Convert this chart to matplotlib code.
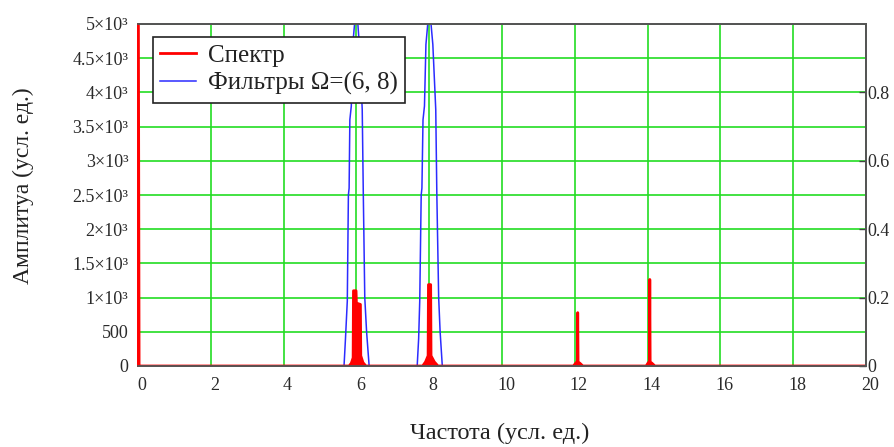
import matplotlib
matplotlib.use('Agg')
import matplotlib.pyplot as plt
import matplotlib.transforms as mtransforms
from matplotlib.ticker import MultipleLocator

plt.rcParams['font.family'] = ['Liberation Serif', 'DejaVu Serif']

# Спектр (левая ось, усл. ед.)
spec_freq = [0.0, 0.03,
             5.80, 5.86, 5.91, 5.92, 5.99, 6.00, 6.11, 6.12, 6.18, 6.26,
             7.82, 7.90, 7.97, 7.98, 8.04, 8.05, 8.14, 8.24,
             11.96, 12.04, 12.07, 12.08, 12.09, 12.14, 12.22,
             13.96, 14.02, 14.05, 14.06, 14.07, 14.12, 14.20,
             20.0]
spec_amp = [8000, 0,
            0, 40, 120, 1100, 1100, 920, 900, 150, 50, 0,
            0, 60, 150, 1190, 1190, 150, 60, 0,
            0, 50, 60, 780, 60, 40, 0,
            0, 50, 60, 1265, 60, 40, 0,
            0]

# Фильтры (правая ось, 0..1)
filt_freq = [0.0, 5.66, 5.70, 5.75, 5.78, 5.80, 5.82, 5.86, 5.90, 5.95, 6.04, 6.08, 6.16, 6.19, 6.23, 6.28, 6.35,
             7.67, 7.71, 7.74, 7.78, 7.80, 7.83, 7.87, 7.91, 7.96, 8.05, 8.10, 8.18, 8.21, 8.26, 8.30, 8.36, 20.0]
filt_gain = [0, 0, 0.08, 0.19, 0.5, 0.52, 0.72, 0.76, 0.94, 1.0, 1.0, 0.94, 0.75, 0.5, 0.2, 0.1, 0,
             0, 0.08, 0.19, 0.5, 0.52, 0.72, 0.76, 0.94, 1.0, 1.0, 0.94, 0.75, 0.5, 0.2, 0.1, 0, 0]

x_ticks = [0, 2, 4, 6, 8, 10, 12, 14, 16, 18, 20]
y_ticks = [0, 500, 1000, 1500, 2000, 2500, 3000, 3500, 4000, 4500, 5000]
y_labels = ['0', '500', '1×10³', '1.5×10³', '2×10³', '2.5×10³', '3×10³',
            '3.5×10³', '4×10³', '4.5×10³', '5×10³']
y2_ticks = [0, 0.2, 0.4, 0.6, 0.8]
y2_labels = ['0', '0.2', '0.4', '0.6', '0.8']

txt = '#2a2a2a'
fig = plt.figure(figsize=(8.94, 4.47), dpi=100)
ax2 = fig.add_axes([138/894, 1 - 366/447, 728/894, 342/447])
ax = fig.add_axes(ax2.get_position(), sharex=ax2)

# нижняя ось: сетка и фильтры
ax2.set_zorder(0)
ax.set_zorder(1)
ax.patch.set_visible(False)

ax2.set_xlim(0, 20)
ax2.set_ylim(0, 1)
ax2.set_xticks(x_ticks)
ax2.set_yticks(y2_ticks)
ax2.set_yticklabels(y2_labels)
ax2.yaxis.set_minor_locator(MultipleLocator(0.1))
ax2.grid(True, which='both', color='#22dd22', linewidth=1.2)
ax2.yaxis.tick_right()
ax2.tick_params(axis='y', which='major', direction='in', length=5, width=1, color='#444444',
                labelsize=13, labelcolor=txt, pad=1)
ax2.tick_params(axis='y', which='minor', length=0)
ax2.tick_params(axis='x', length=0, labelbottom=False)
filt_line, = ax2.plot(filt_freq, filt_gain, color='#2b2bff', linewidth=1.1)

# верхняя ось: спектр
ax.set_ylim(0, 5000)
ax.set_yticks(y_ticks)
ax.set_yticklabels(y_labels)
ax.tick_params(axis='y', length=0, labelsize=13, labelcolor=txt, pad=7)
ax.tick_params(axis='x', length=0, labelsize=13, labelcolor=txt, pad=8)
ax.fill_between(spec_freq, spec_amp, color='#ff0000', linewidth=0)
spec_line, = ax.plot(spec_freq, spec_amp, color='#ff0000', linewidth=2.0)

offset = mtransforms.ScaledTranslation(4/100, 0, fig.dpi_scale_trans)
for lab in ax.get_xticklabels():
    lab.set_transform(lab.get_transform() + offset)

for a in (ax, ax2):
    for s in a.spines.values():
        s.set_color('#555555')
        s.set_linewidth(1.3)
ax.spines['left'].set_color('#ff0000')
ax2.spines['left'].set_color('#ff0000')

ax.set_xlabel('Частота (усл. ед.)', fontsize=17.5, color='#222222', va='center')
ax.xaxis.set_label_coords(0.497, -0.196)
ax.set_ylabel('Амплитуа (усл. ед.)', fontsize=17, color='#222222', va='center')
ax.yaxis.set_label_coords(-0.158, 0.526)

leg = ax.legend([spec_line, filt_line], ['Спектр', 'Фильтры Ω=(6, 8)'],
                loc='upper left', bbox_to_anchor=(0.02, 0.962), borderaxespad=0,
                fancybox=False, framealpha=1, edgecolor='#222222', fontsize=18,
                handlelength=1.45, handletextpad=0.45, borderpad=0.3, labelspacing=0.2)
leg.get_frame().set_linewidth(1.2)
for t in leg.get_texts():
    t.set_color('#222222')

fig.savefig('out.png', dpi=100)
